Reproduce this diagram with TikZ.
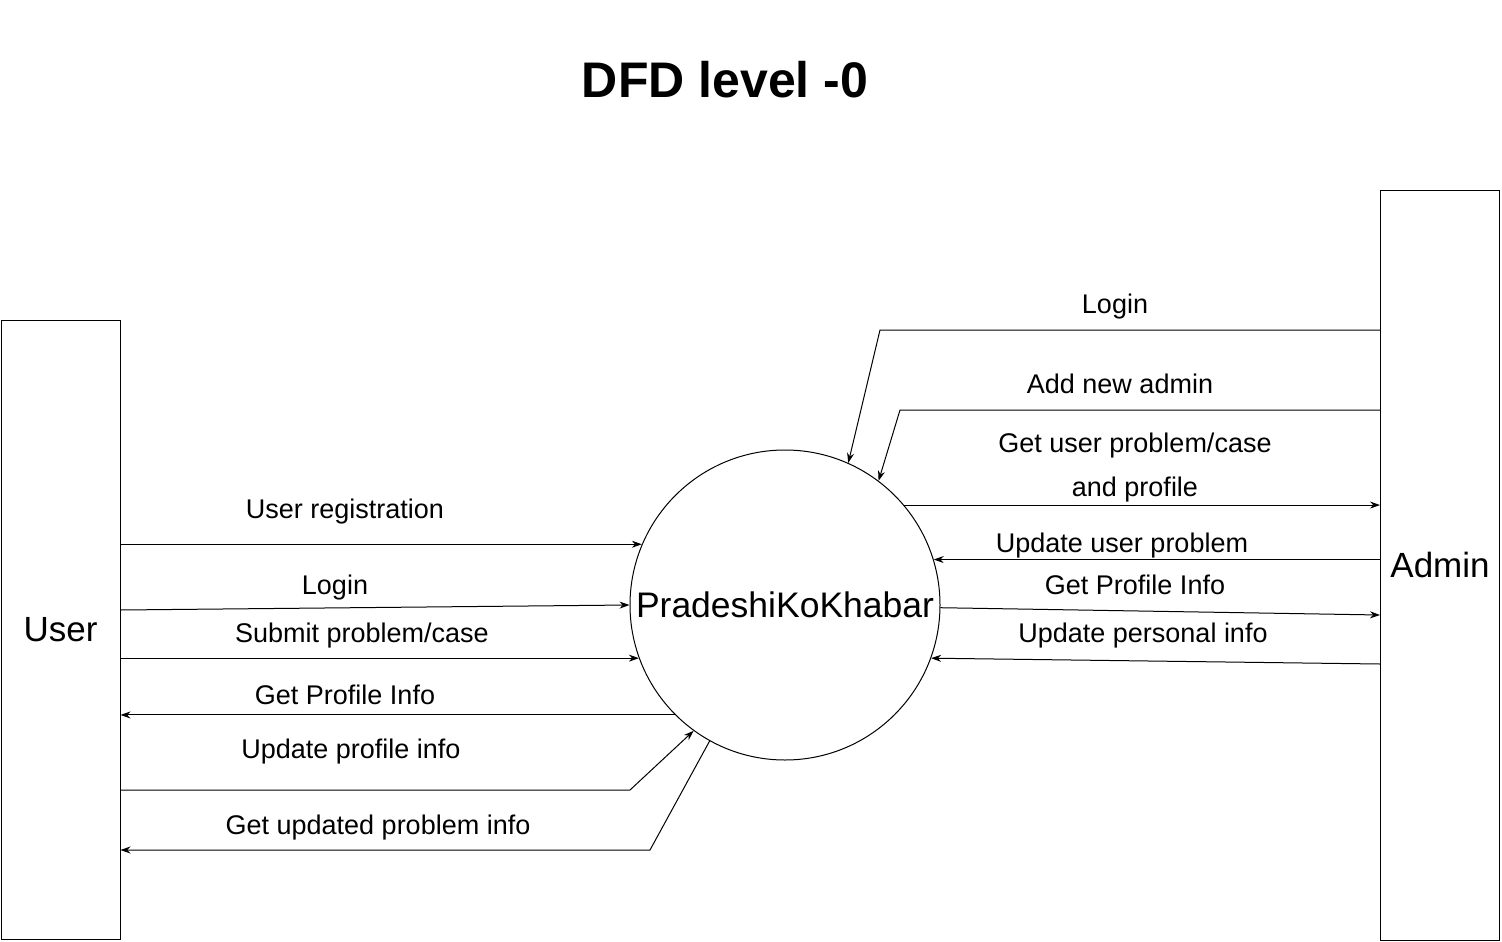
\documentclass[tikz,border=0pt]{standalone}
\usepackage{fontspec}
\setmainfont{Liberation Sans}
\usetikzlibrary{arrows.meta}

\tikzset{
  ent/.style={rectangle, draw, line width=1pt, minimum width=119pt, inner sep=0pt,
              font=\fontsize{35}{40}\selectfont},
  proc/.style={circle, draw, line width=1pt, minimum size=310pt, inner sep=0pt,
               font=\fontsize{35.5}{40}\selectfont},
  lbl/.style={anchor=base, inner sep=0pt, font=\fontsize{27}{31}\selectfont},
  flow/.style={->, line width=1pt},
}

\begin{document}
\begin{tikzpicture}[x=1pt, y=-1pt, >={Stealth[length=10pt, width=7pt]}]
  \useasboundingbox (0,0) rectangle (1502,942);

  \node [anchor=base, font=\fontsize{50}{54}\selectfont\bfseries] (title) at (725,97) {DFD level -0};

  % entities and process
  \node [ent, minimum height=619pt] (user)  at (60.5,630)  {User};
  \node [ent, minimum height=750pt] (admin) at (1440,565)  {Admin};
  \node [proc]                      (pk)    at (785,605)   {PradeshiKoKhabar};

  % user side
  \draw [flow] (user.east |- pk.157.6) -- (pk.157.6);
  \draw [flow] (user.east |- 0,610)    -- (pk.west);
  \draw [flow] (user.east |- pk.200)   -- (pk.200);
  \draw [flow] (pk.225.2) -- (user.east |- pk.225.2);
  \draw [flow] (user.east |- 0,790) -- (630,790) -- (pk.234.7);
  \draw [flow] (pk.241.1) -- (650,850) -- (user.east |- 0,850);

  \node [lbl] (ureg)   at (345,518) {User registration};
  \node [lbl] (ulog)   at (335,594) {Login};
  \node [lbl] (usub)   at (362,642) {Submit problem/case};
  \node [lbl] (uget)   at (345,704) {Get Profile Info};
  \node [lbl] (uupd)   at (351,758) {Update profile info};
  \node [lbl] (uprob)  at (378,834) {Get updated problem info};

  % admin side
  \draw [flow] (admin.west |- 0,330) -- (880,330) -- (pk.66.2);
  \draw [flow] (admin.west |- 0,410) -- (900,410) -- (pk.53.2);
  \draw [flow] (pk.40.7) -- (admin.west |- pk.40.7);
  \draw [flow] (admin.west |- pk.17.6) -- (pk.17.6);
  \draw [flow] (pk.-1.8) -- (admin.west |- 0,615);
  \draw [flow] (admin.west |- 0,664) -- (pk.-20.8);

  \node [lbl] (alog)   at (1115,313) {Login};
  \node [lbl] (anew)   at (1120,393) {Add new admin};
  \node [lbl] (aget)   at (1135,452) {Get user problem/case};
  \node [lbl] (aget2)  at (1135,496) {and profile};
  \node [lbl] (aupd)   at (1122,552) {Update user problem};
  \node [lbl] (aprof)  at (1135,594) {Get Profile Info};
  \node [lbl] (apers)  at (1143,642) {Update personal info};
\end{tikzpicture}
\end{document}
